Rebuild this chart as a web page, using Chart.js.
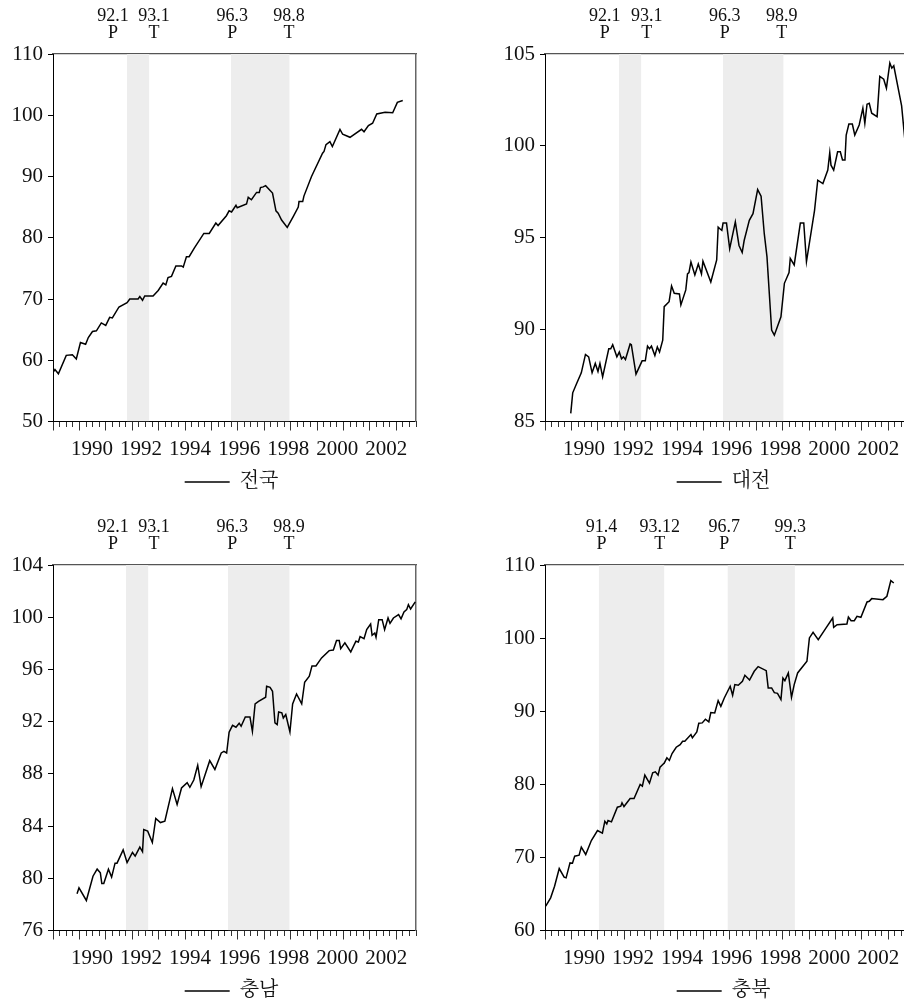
<!DOCTYPE html>
<html lang="ko">

<head>
    <meta charset="UTF-8">
    <meta name="viewport" content="width=device-width, initial-scale=1.0">
    <script src="https://cdn.jsdelivr.net/npm/chart.js"></script>
    <title>지역별 지수</title>
    <style>
        body { margin: 0; background: #fff; overflow: hidden; width: 904px; height: 1007px; position: relative; }
        canvas.panel { position: absolute; }
    </style>
</head>

<body>
    <canvas id="nationChart" class="panel" width="463" height="505" style="left:0px; top:0px"></canvas>
    <canvas id="daejeonChart" class="panel" width="463" height="505" style="left:492px; top:0px"></canvas>
    <canvas id="chungnamChart" class="panel" width="463" height="503" style="left:0px; top:511px"></canvas>
    <canvas id="chungbukChart" class="panel" width="463" height="503" style="left:492px; top:511px"></canvas>

    <script>
        // x values are decimal years
        const yearLabels = [1990, 1992, 1994, 1996, 1998, 2000, 2002];
        const phaseKinds = ['P', 'T', 'P', 'T'];

        const nationT = [1988.91, 1988.99, 1989.13, 1989.45, 1989.70, 1989.86, 1990.03, 1990.24, 1990.35, 1990.52, 1990.68, 1990.88, 1991.06, 1991.22, 1991.33, 1991.60, 1991.93, 1992.04, 1992.38, 1992.45, 1992.56, 1992.65, 1992.99, 1993.20, 1993.40, 1993.51, 1993.60, 1993.74, 1993.92, 1994.15, 1994.22, 1994.35, 1994.46, 1994.67, 1995.06, 1995.28, 1995.55, 1995.64, 1995.98, 1996.09, 1996.19, 1996.37, 1996.42, 1996.80, 1996.87, 1997.00, 1997.21, 1997.32, 1997.37, 1997.48, 1997.58, 1997.86, 1998.00, 1998.09, 1998.23, 1998.46, 1998.71, 1998.91, 1998.94, 1999.09, 1999.14, 1999.45, 1999.90, 1999.96, 2000.04, 2000.20, 2000.30, 2000.61, 2000.72, 2001.02, 2001.49, 2001.59, 2001.77, 2001.94, 2002.11, 2002.45, 2002.76, 2002.95, 2003.17];
        const nationV = [58.0, 58.5, 57.8, 60.8, 60.9, 60.2, 62.9, 62.6, 63.7, 64.7, 64.8, 66.1, 65.7, 67.0, 66.9, 68.7, 69.4, 70.0, 70.0, 70.4, 69.8, 70.5, 70.5, 71.4, 72.6, 72.3, 73.5, 73.7, 75.4, 75.4, 75.2, 76.9, 76.9, 78.3, 80.7, 80.7, 82.4, 82.0, 83.6, 84.4, 84.2, 85.3, 84.9, 85.5, 86.6, 86.2, 87.4, 87.4, 88.2, 88.3, 88.5, 87.3, 84.4, 84.0, 82.9, 81.7, 83.5, 85.0, 85.9, 85.9, 86.8, 90.0, 93.8, 94.1, 95.2, 95.7, 94.9, 97.7, 96.9, 96.4, 97.7, 97.3, 98.3, 98.7, 100.2, 100.5, 100.4, 102.1, 102.4];
        const nationBands = [[1991.92, 1992.84], [1996.16, 1998.56]];
        const nationPhases = ['92.1', '93.1', '96.3', '98.8'];
        const nationPhaseAt = [1991.36, 1993.03, 1996.22, 1998.53];

        const daejeonT = [1989.96, 1990.04, 1990.20, 1990.39, 1990.56, 1990.69, 1990.83, 1990.96, 1991.07, 1991.15, 1991.26, 1991.51, 1991.59, 1991.67, 1991.84, 1991.94, 1992.03, 1992.11, 1992.19, 1992.38, 1992.43, 1992.62, 1992.87, 1993.00, 1993.09, 1993.17, 1993.25, 1993.39, 1993.49, 1993.58, 1993.71, 1993.77, 1993.97, 1994.07, 1994.18, 1994.39, 1994.45, 1994.65, 1994.72, 1994.78, 1994.86, 1995.02, 1995.16, 1995.29, 1995.35, 1995.67, 1995.91, 1995.97, 1996.04, 1996.12, 1996.17, 1996.31, 1996.44, 1996.67, 1996.82, 1996.95, 1997.03, 1997.24, 1997.39, 1997.58, 1997.72, 1997.85, 1997.96, 1998.15, 1998.26, 1998.53, 1998.67, 1998.86, 1998.91, 1999.07, 1999.32, 1999.46, 1999.57, 1999.90, 2000.03, 2000.24, 2000.44, 2000.52, 2000.57, 2000.68, 2000.84, 2000.95, 2001.04, 2001.14, 2001.19, 2001.30, 2001.44, 2001.54, 2001.72, 2001.87, 2001.95, 2002.04, 2002.13, 2002.23, 2002.45, 2002.56, 2002.72, 2002.83, 2002.97, 2003.05, 2003.13, 2003.45, 2003.62];
        const daejeonV = [85.44, 86.56, 87.07, 87.65, 88.65, 88.52, 87.65, 88.16, 87.72, 88.16, 87.43, 88.96, 88.96, 89.18, 88.52, 88.78, 88.41, 88.52, 88.37, 89.22, 89.18, 87.58, 88.30, 88.30, 89.10, 88.96, 89.10, 88.59, 89.06, 88.78, 89.43, 91.25, 91.52, 92.38, 91.98, 91.94, 91.34, 92.16, 93.03, 93.10, 93.68, 92.98, 93.57, 93.03, 93.72, 92.59, 93.79, 95.58, 95.49, 95.40, 95.80, 95.80, 94.40, 95.86, 94.58, 94.20, 94.85, 95.95, 96.31, 97.62, 97.26, 95.22, 93.97, 89.98, 89.70, 90.70, 92.52, 93.10, 93.88, 93.52, 95.80, 95.80, 93.70, 96.49, 98.13, 97.95, 98.68, 99.63, 98.95, 98.68, 99.68, 99.68, 99.23, 99.23, 100.59, 101.19, 101.19, 100.59, 101.14, 102.05, 101.23, 102.27, 102.32, 101.78, 101.59, 103.78, 103.63, 103.14, 104.51, 104.23, 104.36, 102.18, 99.80];
        const daejeonBands = [[1991.92, 1992.84], [1996.16, 1998.64]];
        const daejeonPhases = ['92.1', '93.1', '96.3', '98.9'];
        const daejeonPhaseAt = [1991.35, 1993.06, 1996.24, 1998.56];

        const chungnamT = [1989.89, 1989.97, 1990.27, 1990.54, 1990.71, 1990.84, 1990.90, 1990.98, 1991.17, 1991.30, 1991.44, 1991.52, 1991.77, 1991.93, 1992.15, 1992.26, 1992.45, 1992.56, 1992.61, 1992.77, 1992.96, 1993.10, 1993.29, 1993.47, 1993.78, 1993.97, 1994.15, 1994.38, 1994.49, 1994.65, 1994.81, 1994.95, 1995.30, 1995.51, 1995.77, 1995.88, 1995.99, 1996.09, 1996.23, 1996.37, 1996.50, 1996.58, 1996.75, 1996.94, 1997.04, 1997.15, 1997.29, 1997.58, 1997.62, 1997.76, 1997.86, 1997.96, 1998.05, 1998.11, 1998.24, 1998.30, 1998.40, 1998.57, 1998.68, 1998.84, 1999.05, 1999.17, 1999.36, 1999.47, 1999.63, 1999.86, 2000.17, 2000.34, 2000.47, 2000.58, 2000.64, 2000.81, 2001.05, 2001.26, 2001.36, 2001.43, 2001.59, 2001.70, 2001.86, 2001.92, 2002.03, 2002.08, 2002.19, 2002.33, 2002.43, 2002.57, 2002.65, 2002.79, 2003.00, 2003.10, 2003.22, 2003.33, 2003.40, 2003.49, 2003.68];
        const chungnamV = [78.81, 79.27, 78.30, 80.16, 80.70, 80.42, 79.60, 79.60, 80.70, 80.09, 81.16, 81.16, 82.18, 81.21, 81.98, 81.70, 82.39, 82.03, 83.73, 83.61, 82.74, 84.58, 84.27, 84.37, 86.87, 85.65, 86.92, 87.33, 86.97, 87.53, 88.66, 87.02, 89.01, 88.34, 89.60, 89.73, 89.60, 91.19, 91.72, 91.57, 91.88, 91.65, 92.36, 92.36, 91.26, 93.36, 93.56, 93.87, 94.71, 94.63, 94.33, 91.90, 91.77, 92.74, 92.67, 92.28, 92.54, 91.21, 93.36, 94.12, 93.36, 95.02, 95.48, 96.27, 96.27, 96.88, 97.44, 97.49, 98.21, 98.21, 97.59, 98.03, 97.34, 98.16, 98.10, 98.51, 98.36, 99.05, 99.48, 98.61, 98.79, 98.46, 99.81, 99.81, 99.05, 99.94, 99.53, 99.94, 100.20, 99.87, 100.40, 100.58, 100.96, 100.63, 101.17];
        const chungnamBands = [[1991.88, 1992.80], [1996.04, 1998.56]];
        const chungnamPhases = ['92.1', '93.1', '96.3', '98.9'];
        const chungnamPhaseAt = [1991.36, 1993.03, 1996.22, 1998.53];

        const chungbukT = [1988.94, 1989.14, 1989.30, 1989.49, 1989.69, 1989.77, 1989.93, 1990.03, 1990.12, 1990.30, 1990.39, 1990.57, 1990.80, 1991.05, 1991.25, 1991.35, 1991.43, 1991.48, 1991.62, 1991.86, 1992.00, 1992.05, 1992.13, 1992.38, 1992.54, 1992.79, 1992.88, 1992.98, 1993.17, 1993.30, 1993.41, 1993.52, 1993.60, 1993.71, 1993.77, 1993.88, 1993.98, 1994.09, 1994.26, 1994.42, 1994.52, 1994.61, 1994.86, 1994.92, 1995.10, 1995.18, 1995.32, 1995.45, 1995.59, 1995.67, 1995.83, 1995.97, 1996.08, 1996.22, 1996.46, 1996.56, 1996.65, 1996.79, 1996.96, 1997.06, 1997.25, 1997.44, 1997.60, 1997.93, 1998.01, 1998.15, 1998.26, 1998.39, 1998.53, 1998.61, 1998.69, 1998.83, 1998.96, 1999.07, 1999.21, 1999.59, 1999.69, 1999.84, 2000.05, 2000.37, 2000.64, 2000.68, 2000.82, 2001.22, 2001.28, 2001.39, 2001.52, 2001.63, 2001.79, 2002.04, 2002.13, 2002.23, 2002.69, 2002.85, 2003.01, 2003.13];
        const chungbukV = [63.33, 64.47, 66.06, 68.48, 67.29, 67.20, 69.25, 69.21, 70.17, 70.30, 71.40, 70.40, 72.31, 73.68, 73.31, 74.95, 74.59, 75.04, 74.86, 76.87, 77.00, 77.46, 76.96, 78.05, 78.05, 79.97, 79.74, 81.25, 80.15, 81.57, 81.70, 81.25, 82.34, 82.71, 82.89, 83.62, 83.26, 84.20, 85.07, 85.43, 85.89, 85.89, 86.80, 86.35, 87.17, 88.35, 88.40, 88.90, 88.53, 89.81, 89.76, 91.45, 90.67, 91.81, 93.41, 92.18, 93.64, 93.55, 94.09, 94.91, 94.27, 95.46, 96.10, 95.55, 93.18, 93.18, 92.54, 92.45, 91.59, 94.55, 94.18, 95.23, 91.90, 93.64, 95.23, 96.83, 100.02, 100.79, 99.79, 101.39, 102.75, 101.48, 101.84, 101.93, 102.89, 102.39, 102.39, 102.98, 102.84, 104.94, 105.03, 105.40, 105.26, 105.72, 107.86, 107.54];
        const chungbukBands = [[1991.10, 1993.78], [1996.35, 1999.10]];
        const chungbukPhases = ['91.4', '93.12', '96.7', '99.3'];
        const chungbukPhaseAt = [1991.21, 1993.59, 1996.22, 1998.91];

        const xMin = 1988.91;
        const xMax = 2003.71;
        const serif = "'Liberation Serif', 'Times New Roman', serif";
        const hangul = "'Liberation Serif', 'Noto Serif CJK KR', 'Noto Sans CJK KR', serif";

        Chart.defaults.font.family = serif;
        Chart.defaults.color = '#111';

        function plotPanel(canvasId, name, times, values, bands, phases, phaseAt, yMin, yMax, yStep) {
            const datasets = [{
                label: name,
                data: times.map((t, i) => ({ x: t, y: values[i] })),
                borderColor: '#000',
                borderWidth: 1.5,
                pointRadius: 0,
                tension: 0,
                fill: false,
                order: 0
            }];
            // grey bands between peak and trough
            bands.forEach(b => datasets.push({
                label: 'band',
                data: [{ x: b[0], y: yMax }, { x: b[1], y: yMax }],
                fill: 'start',
                backgroundColor: '#ededed',
                borderWidth: 0,
                pointRadius: 0,
                order: 1
            }));

            new Chart(document.getElementById(canvasId), {
                type: 'line',
                data: { datasets: datasets },
                options: {
                    responsive: false,
                    animation: false,
                    events: [],
                    layout: { padding: { left: 0, top: 0, right: 0, bottom: 3 } },
                    plugins: {
                        tooltip: { enabled: false },
                        legend: {
                            position: 'bottom',
                            labels: {
                                usePointStyle: true,
                                pointStyle: 'line',
                                pointStyleWidth: 45,
                                padding: 10,
                                color: '#111',
                                font: { family: hangul, size: 20 },
                                filter: item => item.datasetIndex === 0
                            }
                        }
                    },
                    scales: {
                        x: {
                            type: 'linear', position: 'bottom', weight: 1,
                            min: xMin, max: xMax,
                            afterBuildTicks: s => { s.ticks = yearLabels.map(y => ({ value: y + 0.5 })); },
                            afterFit: s => { s.height = 31.5; },
                            grid: { display: false, drawTicks: false },
                            border: { display: false },
                            ticks: {
                                autoSkip: false, maxRotation: 0, padding: 6,
                                font: { size: 21 },
                                callback: (v, i) => String(yearLabels[i])
                            }
                        },
                        xt: {
                            type: 'linear', position: 'bottom', weight: 0,
                            min: 0, max: 13.75,
                            afterFit: s => { s.height = 9; },
                            grid: {
                                display: true, drawOnChartArea: false, drawTicks: true,
                                tickLength: 9, tickColor: '#333', tickWidth: 1,
                                tickBorderDash: ctx => (ctx.tick && ctx.tick.value % 1 === 0) ? [] : [5, 20]
                            },
                            border: { display: true, color: '#000', width: 1 },
                            ticks: { display: false, stepSize: 0.25, autoSkip: false, maxTicksLimit: 100 }
                        },
                        top: {
                            type: 'linear', position: 'top',
                            min: xMin, max: xMax,
                            afterBuildTicks: s => { s.ticks = phaseAt.map(v => ({ value: v })); },
                            afterFit: s => { s.height = 54; },
                            grid: { display: false, drawTicks: false },
                            border: { display: true, color: '#555', width: 1.2 },
                            ticks: {
                                autoSkip: false, maxRotation: 0, padding: 12,
                                font: { size: 18, lineHeight: 0.97 },
                                callback: (v, i) => [phases[i], phaseKinds[i]]
                            }
                        },
                        y: {
                            position: 'left',
                            min: yMin, max: yMax,
                            afterFit: s => { s.width = 53; },
                            grid: { display: true, drawOnChartArea: false, tickLength: 5, color: '#000' },
                            border: { display: true, color: '#000', width: 1 },
                            ticks: { stepSize: yStep, padding: 5, font: { size: 21 } }
                        },
                        yRight: {
                            position: 'right',
                            afterFit: s => { s.width = 47; },
                            grid: { display: false, drawTicks: false },
                            border: { display: true, color: '#666', width: 1.5 },
                            ticks: { display: false }
                        }
                    }
                }
            });
        }

        plotPanel('nationChart', '전국', nationT, nationV, nationBands, nationPhases, nationPhaseAt, 50, 110, 10);
        plotPanel('daejeonChart', '대전', daejeonT, daejeonV, daejeonBands, daejeonPhases, daejeonPhaseAt, 85, 105, 5);
        plotPanel('chungnamChart', '충남', chungnamT, chungnamV, chungnamBands, chungnamPhases, chungnamPhaseAt, 76, 104, 4);
        plotPanel('chungbukChart', '충북', chungbukT, chungbukV, chungbukBands, chungbukPhases, chungbukPhaseAt, 60, 110, 10);
    </script>
</body>
</html>
